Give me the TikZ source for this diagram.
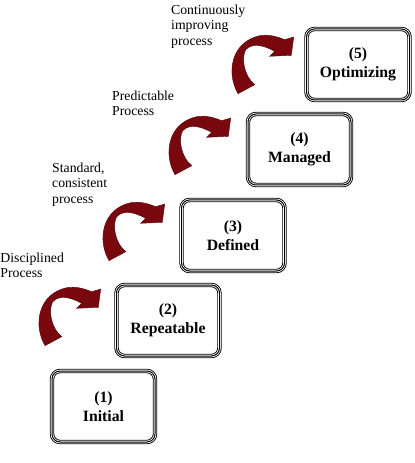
\documentclass[tikz,border=0pt]{standalone}
\usepackage{fontspec}
\setmainfont{Liberation Serif}

\definecolor{arrowred}{RGB}{120,8,14}

\tikzset{
  stage/.style={rounded corners=8bp, minimum width=103bp, minimum height=71bp,
    inner sep=0pt, align=center, font=\bfseries\fontsize{15.8}{19}\selectfont,
    preaction={fill=white},
    preaction={draw, line width=4.4bp},
    preaction={draw=white, line width=2.6bp},
    draw, line width=1bp},
  note/.style={anchor=north west, inner sep=0pt, align=left,
    font=\fontsize{13.8}{15.3}\selectfont},
  % thick bent arrow, drawn around its bend
  bentarrow/.pic={
    \fill[arrowred, draw=arrowred!70!black, line width=0.4bp]
      (-15,35.7) .. controls (-27,15) and (-22,-16) .. (6.7,-22.3)
      .. controls (16,-24) and (25,-21) .. (31.7,-18.3)
      -- (40.7,-21) -- (38.3,-2.7) -- (16.7,-1.7) -- (21.7,-6.7)
      .. controls (12,-12) and (0,-16) .. (-7.3,-8.3)
      .. controls (-12,0) and (-9,18) .. (1.7,26.7) -- cycle;
  }
}

\begin{document}
\begin{tikzpicture}[x=1bp, y=-1bp]
  \useasboundingbox (0,0) rectangle (414,463);

  % the five levels
  \foreach \n/\x/\y/\name in {1/103.5/406.5/Initial, 2/168/320.5/Repeatable,
      3/233/235.5/Defined, 4/299.5/149.5/Managed, 5/358/64.5/Optimizing} {
    \node[stage] (stage\n) at (\x, \y) {(\n)\\\name};
  }

  % steps between them
  \foreach \x/\y in {60/310, 124/225, 190/139, 253/58} {
    \pic at (\x, \y) {bentarrow};
  }

  \node[note] (disciplined) at (0.3, 252.6) {Disciplined\\Process};
  \node[note] (standard) at (52, 162.8) {Standard,\\consistent\\process};
  \node[note] (predictable) at (112, 90.4) {Predictable\\Process};
  \node[note] (continuous) at (171, 4.8) {Continuously\\improving\\process};
\end{tikzpicture}
\end{document}
